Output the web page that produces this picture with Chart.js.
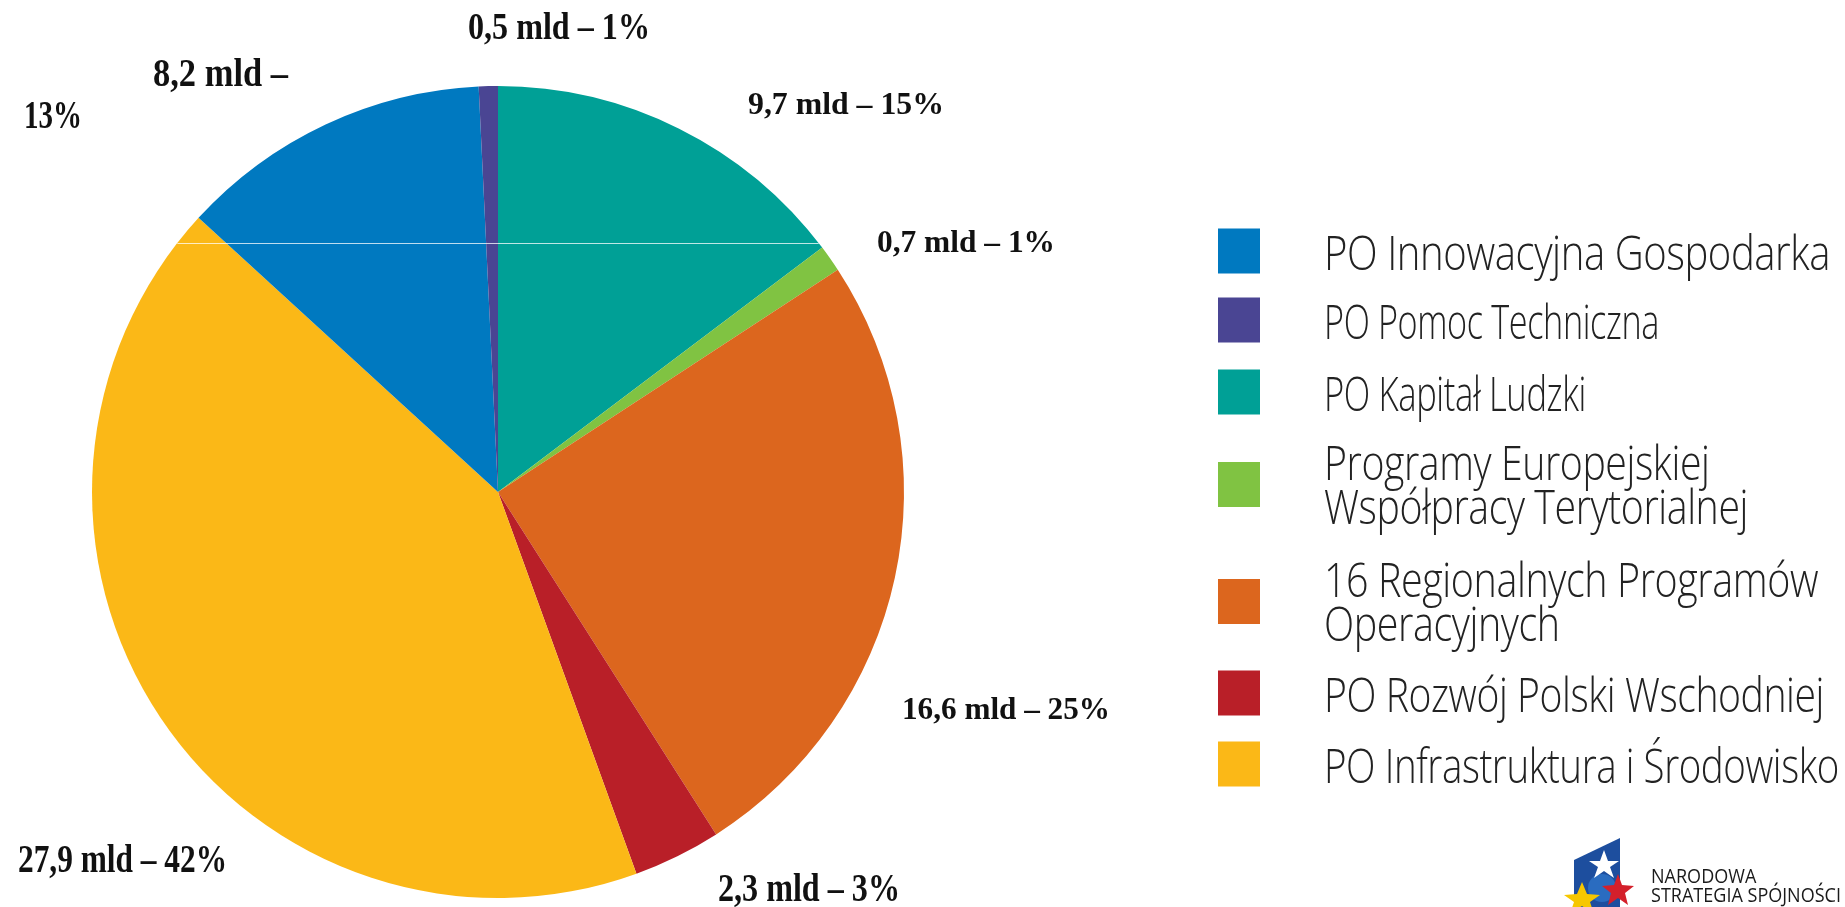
<!DOCTYPE html>
<html>
<head>
<meta charset="utf-8">
<script src="https://cdn.jsdelivr.net/npm/chart.js@4/dist/chart.umd.min.js"></script>
<style>
  html, body { margin: 0; padding: 0; background: #fff; }
  #wrap { position: relative; width: 1845px; height: 907px; overflow: hidden; }
  #pieChart { position: absolute; left: 0; top: 0; }
  .leg-row { position: absolute; left: 1218px; display: flex; align-items: center; transform: translateY(-50%); }
  .leg-box { width: 42px; height: 45px; flex: none; }
  .leg-text { margin-left: 64px; font-family: "Open Sans", sans-serif; font-weight: 300;
              font-size: 47px; line-height: 44px; color: #222; white-space: nowrap; letter-spacing: -0.5px;
              transform-origin: 0 50%; }
  #logo { position: absolute; left: 1560px; top: 836px; }
  #logoText { position: absolute; left: 1651px; top: 866px; font-family: "Open Sans", sans-serif; font-weight: 500;
              font-size: 20px; line-height: 19px; color: #1a1a1a; white-space: nowrap; transform-origin: 0 0; }
</style>
</head>
<body>
<div id="wrap">
  <canvas id="pieChart" width="1845" height="907"></canvas>
  <div id="legend"></div>
  <svg id="logo" width="86" height="71" viewBox="0 0 86 71">
    <polygon points="14,24 60,2 60,71 14,71" fill="#1d4e9e"/>
    <circle cx="42" cy="52" r="14" fill="#2a6cc0"/>
    <polygon points="44,14 48,25 59,25 50,31 54,42 44,35 34,42 38,31 29,25 40,25" fill="#fff"/>
    <polygon points="58,38 62,49 74,50 65,57 68,69 58,62 48,69 51,57 42,50 54,49" fill="#d4202b"/>
    <polygon points="22,46 27,58 40,59 30,66 34,78 22,70 10,78 14,66 4,59 17,58" fill="#f6c700"/>
  </svg>
  <div id="logoText">NARODOWA<br>STRATEGIA SPÓJNOŚCI</div>
</div>
<script>
// Pie order (clockwise from 12 o'clock)
const labels = ['PO Kapitał Ludzki', 'Programy Europejskiej Współpracy Terytorialnej',
  '16 Regionalnych Programów Operacyjnych', 'PO Rozwój Polski Wschodniej',
  'PO Infrastruktura i Środowisko', 'PO Innowacyjna Gospodarka', 'PO Pomoc Techniczna'];
const values = [9.7, 0.7, 16.6, 2.3, 27.9, 8.2, 0.5];   // mld
const percents = [15, 1, 25, 3, 42, 13, 1];
const colors = ['#00a096', '#80c342', '#dc661e', '#b91f28', '#fbb817', '#0079c0', '#4a4593'];

// Legend order and line breaks
const legendOrder = [5, 6, 0, 1, 2, 3, 4];
const legendLines = {
  1: ['Programy Europejskiej', 'Współpracy Terytorialnej'],
  2: ['16 Regionalnych Programów', 'Operacyjnych']
};
const legendCenters = [251, 320, 392, 484, 601, 693, 764];
const legendWidths = [506, 335, 262, 424, 494, 500, 515];   // rendered width of each entry

const fmt = v => v.toString().replace('.', ',');

// label placement: [text part, left x, middle y, font px, width]
function labelParts(i) {
  const full = fmt(values[i]) + ' mld – ' + percents[i] + '%';
  switch (i) {
    case 0: return [[full, 748, 106, 31, 196]];
    case 1: return [[full, 877, 244, 31, 178]];
    case 2: return [[full, 902, 711, 31, 208]];
    case 3: return [[full, 718, 891, 40, 182]];
    case 4: return [[full, 18, 862, 40, 209]];
    case 5: return [[fmt(values[i]) + ' mld –', 153, 76, 40, 135], [percents[i] + '%', 24, 118, 40, 58]];
    case 6: return [[full, 468, 29, 38, 182]];
  }
}

const valueLabels = {
  id: 'valueLabels',
  afterDraw(chart) {
    const ctx = chart.ctx;
    const arc = chart.getDatasetMeta(0).data[0];
    // thin white scan line across the pie
    const yLine = 243, dy = yLine - arc.y;
    const half = Math.sqrt(arc.outerRadius * arc.outerRadius - dy * dy);
    ctx.save();
    ctx.strokeStyle = 'rgba(255,255,255,0.75)';
    ctx.lineWidth = 1;
    ctx.beginPath();
    ctx.moveTo(arc.x - half, yLine + 0.5);
    ctx.lineTo(arc.x + half, yLine + 0.5);
    ctx.stroke();
    ctx.fillStyle = '#111';
    ctx.textBaseline = 'middle';
    values.forEach((v, i) => {
      labelParts(i).forEach(([txt, x, y, size, w]) => {
        ctx.font = 'bold ' + size + 'px "Liberation Serif", serif';
        const mw = ctx.measureText(txt).width;
        ctx.save();
        ctx.translate(x, y);
        ctx.scale(w / mw, 1);
        ctx.fillText(txt, 0, 0);
        ctx.restore();
      });
    });
    ctx.restore();
  }
};

new Chart(document.getElementById('pieChart'), {
  type: 'pie',
  data: {
    labels: labels,
    datasets: [{
      data: values,
      backgroundColor: colors,
      borderWidth: 0
    }]
  },
  options: {
    responsive: false,
    animation: false,
    rotation: 0,
    layout: { padding: { left: 92, right: 941, top: 86, bottom: 9 } },
    plugins: {
      legend: { display: false },
      tooltip: { enabled: false }
    }
  },
  plugins: [valueLabels]
});

// HTML legend
const legend = document.getElementById('legend');
legendOrder.forEach((idx, r) => {
  const row = document.createElement('div');
  row.className = 'leg-row';
  const lines = legendLines[idx] || [labels[idx]];
  row.style.top = legendCenters[r] + 'px';
  const box = document.createElement('div');
  box.className = 'leg-box';
  box.style.background = colors[idx];
  const txt = document.createElement('div');
  txt.className = 'leg-text';
  txt.innerHTML = lines.join('<br>');
  row.appendChild(box);
  row.appendChild(txt);
  legend.appendChild(row);
  // squeeze to the condensed look of the original type
  txt.style.transform = 'scaleX(' + (legendWidths[r] / txt.getBoundingClientRect().width) + ')';
});
const logoText = document.getElementById('logoText');
logoText.style.transform = 'scaleX(' + (190 / logoText.getBoundingClientRect().width) + ')';
</script>
</body>
</html>
